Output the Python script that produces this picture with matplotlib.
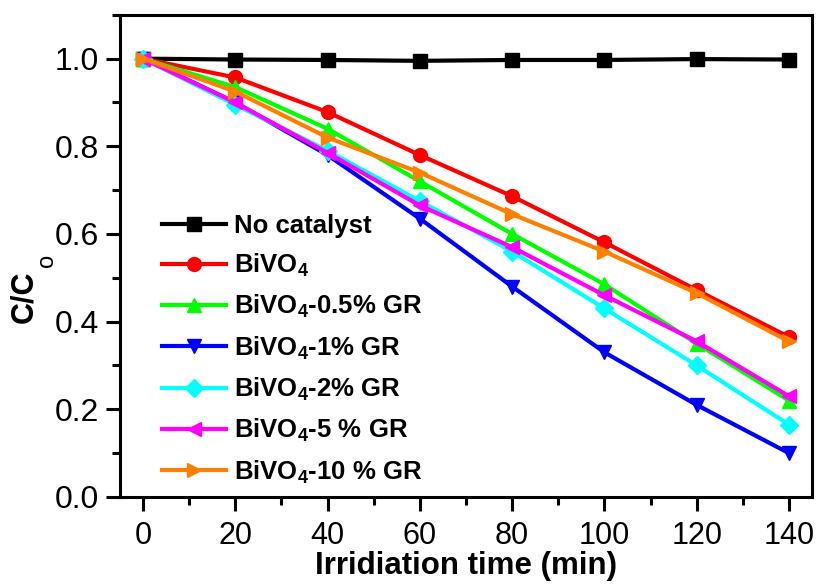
import matplotlib
matplotlib.use("Agg")
import matplotlib.pyplot as plt
from matplotlib.ticker import MultipleLocator, FormatStrFormatter

# Data
time = [0, 20, 40, 60, 80, 100, 120, 140]
no_catalyst = [1.0, 0.998, 0.997, 0.995, 0.997, 0.997, 0.999, 0.998]
bivo4 = [1.0, 0.957, 0.878, 0.780, 0.686, 0.581, 0.472, 0.365]
gr_05 = [1.0, 0.935, 0.840, 0.720, 0.600, 0.485, 0.350, 0.220]
gr_1 = [1.0, 0.900, 0.780, 0.635, 0.480, 0.330, 0.210, 0.100]
gr_2 = [1.0, 0.895, 0.790, 0.675, 0.560, 0.430, 0.300, 0.165]
gr_5 = [1.0, 0.900, 0.785, 0.665, 0.570, 0.460, 0.355, 0.230]
gr_10 = [1.0, 0.925, 0.820, 0.740, 0.645, 0.560, 0.465, 0.355]

labels = ["No catalyst", r"BiVO$_4$", r"BiVO$_4$-0.5% GR", r"BiVO$_4$-1% GR",
          r"BiVO$_4$-2% GR", r"BiVO$_4$-5 % GR", r"BiVO$_4$-10 % GR"]
series = [no_catalyst, bivo4, gr_05, gr_1, gr_2, gr_5, gr_10]
colors = ["black", "#ff0000", "#00ff00", "#0000ff", "#00ffff", "#ff00ff", "#ff8000"]
markers = ["s", "o", "^", "v", "D", "<", ">"]

plt.rcParams["font.family"] = ["Liberation Sans", "DejaVu Sans"]
plt.rcParams["mathtext.fontset"] = "custom"
plt.rcParams["mathtext.rm"] = "Liberation Sans:bold"
plt.rcParams["mathtext.it"] = "Liberation Sans:bold"
plt.rcParams["mathtext.bf"] = "Liberation Sans:bold"

fig = plt.figure(figsize=(8.19, 5.88), dpi=100)
ax = fig.add_axes([0.1465, 0.1548, 0.845, 0.82])

for y, lab, c, m in zip(series, labels, colors, markers):
    ms = 9 if m == "D" else 10
    ax.plot(time, y, color=c, marker=m, markersize=ms, linewidth=3, label=lab)

ax.set_xlim(-5, 145)
ax.set_ylim(0, 1.1)
ax.xaxis.set_major_locator(MultipleLocator(20))
ax.xaxis.set_minor_locator(MultipleLocator(10))
ax.yaxis.set_major_locator(MultipleLocator(0.2))
ax.yaxis.set_minor_locator(MultipleLocator(0.1))
ax.yaxis.set_major_formatter(FormatStrFormatter("%.1f"))

for s in ax.spines.values():
    s.set_linewidth(2.2)
ax.tick_params(which="major", direction="out", length=10, width=2.2, labelsize=22)
ax.tick_params(which="minor", direction="out", length=6, width=2.2)
ax.tick_params(axis="x", which="major", pad=7)
ax.tick_params(axis="y", which="major", pad=5, labelsize=23)

ax.set_xlabel("Irridiation time (min)", fontsize=22.5, fontweight="bold", labelpad=0)
ax.set_ylabel("C/C", fontsize=22, fontweight="bold")
ax.yaxis.set_label_coords(-0.117, 0.415)
# subscript "o" sits well below the baseline in the original
ax.annotate("o", xy=(1, 1), xycoords=ax.yaxis.label, xytext=(14, 4),
            textcoords="offset pixels", rotation=90, rotation_mode="anchor",
            ha="left", va="baseline", fontsize=17)

ax.legend(loc="upper left", bbox_to_anchor=(0.035, 0.625), frameon=False,
          prop={"weight": "bold", "size": 18.5}, handlelength=2.5,
          labelspacing=0.55, handletextpad=0.3, borderpad=0.2)

fig.savefig("out.png", dpi=100)
